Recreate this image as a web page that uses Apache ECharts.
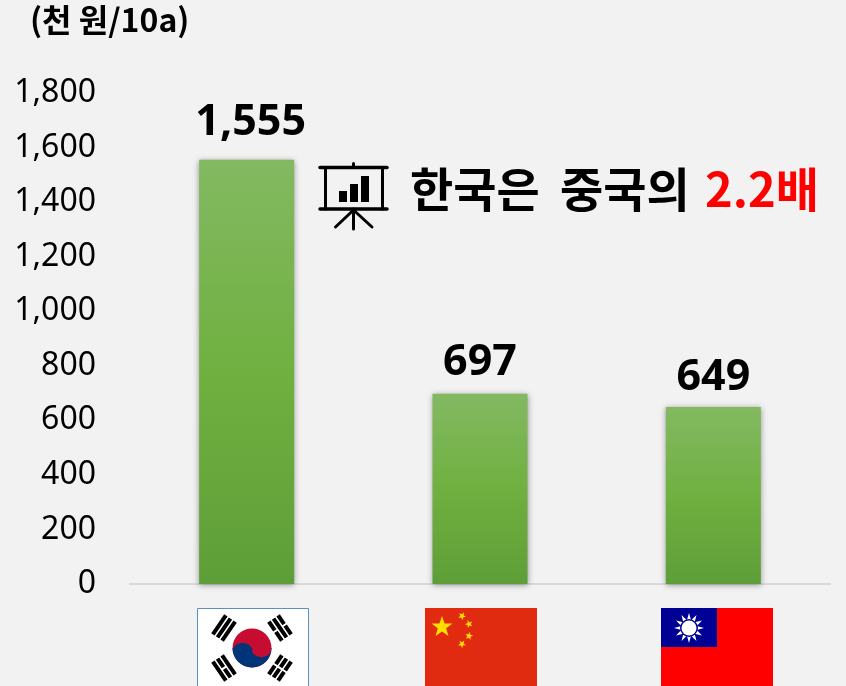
<!DOCTYPE html>
<html><head><meta charset="utf-8">
<style>html,body{margin:0;padding:0;background:#f2f2f2}#c{width:846px;height:686px}</style>
<script src="https://cdn.jsdelivr.net/npm/echarts@6/dist/echarts.min.js"></script>
</head><body><div id="c"></div>
<script>
const categories = ['한국', '중국', '대만'];
const values = [1555, 697, 649];
const unitLabel = '(천 원/10a)';
const noteWords = ['한국은', '중국의'];
const noteEmphasis = '2.2배';
const labelGaps = [16, 10, 8];
const labelShift = [4, 0, 0];
const FONT = '"Noto Sans","Noto Sans CJK KR",sans-serif';
const KFONT = '"Noto Sans CJK KR","Noto Sans",sans-serif';

function star(cx, cy, r, rot, fill) {
  const pts = [];
  for (let i = 0; i < 10; i++) {
    const a = -Math.PI / 2 + rot + i * Math.PI / 5, q = i % 2 ? r * 0.4 : r;
    pts.push([cx + q * Math.cos(a), cy + q * Math.sin(a)]);
  }
  return { type: 'polygon', shape: { points: pts }, style: { fill } };
}
function rect(x, y, width, height, fill, extra) {
  return Object.assign({ type: 'rect', shape: { x, y, width, height }, style: { fill } }, extra || {});
}
function trigram(cx, cy, angle, pattern) {
  const kids = [];
  pattern.forEach((solid, i) => {
    const off = (i - 1) * 5.6;
    if (solid) kids.push(rect(off - 2, -11.5, 4, 23, '#000'));
    else {
      kids.push(rect(off - 2, -11.5, 4, 10.5, '#000'));
      kids.push(rect(off - 2, 1, 4, 10.5, '#000'));
    }
  });
  return { type: 'group', x: cx, y: cy, rotation: angle, children: kids };
}
const sunRays = [];
for (let i = 0; i < 12; i++) {
  const a = i * Math.PI / 6, t = 0.26;
  sunRays.push({ type: 'polygon', shape: { points: [
    [689 + 15 * Math.cos(a), 628 + 15 * Math.sin(a)],
    [689 + 8 * Math.cos(a - t), 628 + 8 * Math.sin(a - t)],
    [689 + 8 * Math.cos(a + t), 628 + 8 * Math.sin(a + t)]
  ] }, style: { fill: '#fff' } });
}
const blackLine = (x1, y1, x2, y2, w) => ({ type: 'line', shape: { x1, y1, x2, y2 }, style: { stroke: '#000', lineWidth: w || 3, lineCap: 'round' } });

const taegeuk = {
  type: 'group', x: 252, y: 648,
  children: [
    { type: 'circle', shape: { cx: 0, cy: 0, r: 19.5 }, style: { fill: '#c60c30' } },
    { type: 'sector', shape: { cx: 0, cy: 0, r0: 0, r: 19.5, startAngle: 0, endAngle: Math.PI, clockwise: true }, style: { fill: '#003478' } },
    { type: 'group', x: 0, y: 2, scaleY: 0.75, children: [
      { type: 'circle', shape: { cx: -9.5, cy: 0, r: 9.5 }, style: { fill: '#003478' } },
      { type: 'circle', shape: { cx: 9.5, cy: 0, r: 9.5 }, style: { fill: '#c60c30' } }
    ] }
  ]
};
const flags = [
  rect(197.5, 608.5, 111, 90, '#fff', { style: { fill: '#fff', stroke: '#5f8fc0', lineWidth: 1 } }),
  trigram(224, 628, -0.6, [true, true, true]),
  trigram(280, 628, 0.6, [false, true, false]),
  trigram(224, 668, 0.6, [true, false, true]),
  trigram(280, 668, -0.6, [false, false, false]),
  taegeuk,
  rect(425, 608, 112, 90, '#e02b10'),
  star(442, 627, 11, 0, '#ffde00'),
  star(462, 616, 4.2, 0.5, '#ffde00'),
  star(469, 624, 4.2, 0.9, '#ffde00'),
  star(469, 636, 4.2, 0.2, '#ffde00'),
  star(462, 644, 4.2, 0.6, '#ffde00'),
  rect(661, 608, 112, 90, '#ff0000'),
  rect(661, 608, 56, 39, '#000095'),
  ...sunRays,
  { type: 'circle', shape: { cx: 689, cy: 628, r: 9 }, style: { fill: '#000095' } },
  { type: 'circle', shape: { cx: 689, cy: 628, r: 7.5 }, style: { fill: '#fff' } }
];
const icon = [
  blackLine(320, 167.5, 387, 167.5, 3.5), blackLine(320, 209, 387, 209, 3.5),
  blackLine(325.5, 167.5, 325.5, 209, 3), blackLine(382.5, 167.5, 382.5, 209, 3),
  blackLine(353.5, 163.5, 353.5, 167, 3),
  blackLine(353.5, 209, 353.5, 229, 3), blackLine(353.5, 210, 335.5, 227, 3), blackLine(353.5, 210, 372, 227, 3),
  rect(339, 191, 8, 11, '#000'), rect(350, 184, 8, 18, '#000'), rect(361, 176, 8, 26, '#000')
];

const chart = echarts.init(document.getElementById('c'), null, { renderer: 'canvas' });
chart.setOption({
  backgroundColor: '#f2f2f2',
  animation: false,
  grid: { left: 130, right: 16, top: 93, bottom: 102, containLabel: false },
  xAxis: {
    type: 'category', data: categories,
    axisLine: { lineStyle: { color: '#d9d9d9', width: 2 } },
    axisTick: { show: false }, axisLabel: { show: false }
  },
  yAxis: {
    type: 'value', min: 0, max: 1800, interval: 200,
    splitLine: { show: false }, axisLine: { show: false }, axisTick: { show: false },
    axisLabel: { color: '#000', fontFamily: FONT, fontSize: 32, margin: 34, formatter: v => v.toLocaleString('en-US') }
  },
  series: [{
    type: 'bar', barWidth: 95,
    data: values.map((value, i) => ({ value, label: { distance: labelGaps[i], offset: [labelShift[i], 0] } })),
    itemStyle: {
      color: new echarts.graphic.LinearGradient(0, 0, 0, 1, [
        { offset: 0, color: '#83b962' }, { offset: 0.5, color: '#70b040' }, { offset: 1, color: '#5e9e38' }
      ]),
      shadowColor: 'rgba(0,0,0,0.4)', shadowBlur: 6, shadowOffsetY: 1
    },
    label: {
      show: true, position: 'top', color: '#000', fontFamily: FONT, fontWeight: 'bold', fontSize: 43,
      formatter: p => p.value.toLocaleString('en-US')
    }
  }],
  graphic: [
    { type: 'text', left: 30, top: 4, style: { text: unitLabel, fill: '#000', font: 'bold 32px ' + KFONT } },
    { type: 'text', left: 410, top: 166, style: { text: noteWords[0], fill: '#000', font: 'bold 47px ' + KFONT } },
    { type: 'text', left: 560, top: 166, style: { text: noteWords[1], fill: '#000', font: 'bold 47px ' + KFONT } },
    { type: 'text', left: 705, top: 166, style: { text: noteEmphasis, fill: '#ff0000', font: 'bold 47px ' + KFONT } },
    { type: 'group', children: flags.concat(icon), silent: true }
  ]
});
</script></body></html>
